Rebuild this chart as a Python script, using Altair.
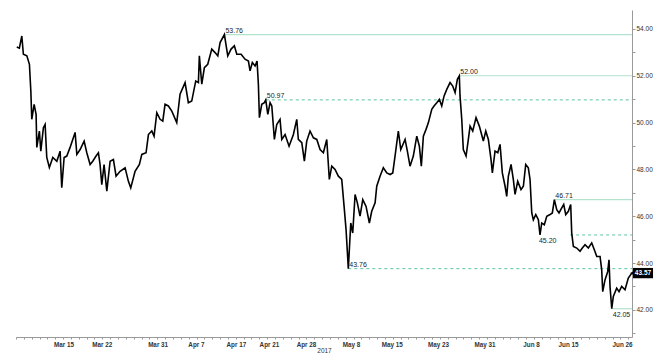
import altair as alt
import pandas as pd

# Trading-day index (0 = Mar 7, 2017) and price values
days = [0.10,0.43,0.74,0.94,1.38,1.71,1.89,2.01,2.31,2.56,2.65,2.98,3.16,3.49,3.71,3.92,4.25,4.69,5.20,5.62,
        5.83,6.13,6.47,6.89,7.53,7.75,8.17,8.68,9.02,9.44,9.78,10.20,10.50,10.71,10.93,11.22,11.57,11.99,12.41,12.75,
        13.26,13.90,14.32,14.62,15.17,15.72,16.03,16.57,16.87,17.30,17.59,17.94,18.36,18.70,18.99,19.41,
        19.85,20.48,20.90,21.54,21.96,22.39,22.90,23.24,23.36,23.67,24.00,24.43,24.94,25.36,25.71,26.00,26.55,26.98,27.40,27.82,
        28.13,28.68,29.18,29.61,29.82,30.11,30.46,30.71,30.88,31.01,31.31,31.64,31.82,32.08,32.37,32.59,32.92,33.22,33.64,33.86,
        34.28,34.79,35.34,35.77,35.97,36.41,36.74,37.04,37.46,37.89,38.32,38.74,
        39.16,39.59,39.92,40.23,40.65,41.07,41.50,41.80,42.05,42.34,42.65,42.90,43.20,43.49,43.83,44.18,44.60,45.02,45.32,45.75,
        45.96,46.38,46.80,47.24,47.66,48.00,48.29,48.71,49.02,49.57,49.86,50.20,50.62,51.06,51.39,51.64,51.90,52.24,52.54,52.97,
        53.26,53.61,53.94,54.24,54.54,54.88,55.30,55.64,55.94,56.23,56.48,56.57,56.79,56.99,57.34,57.63,57.85,58.19,58.61,59.03,
        59.54,59.85,60.18,60.52,60.69,61.03,61.38,61.67,61.96,62.31,62.52,62.73,63.07,63.36,63.58,63.92,64.34,64.64,64.94,65.27,
        65.49,65.71,65.91,66.22,66.55,66.76,66.98,67.31,67.62,68.04,68.33,68.59,68.89,69.18,69.53,69.78,70.04,70.37,70.67,70.80,
        71.01,71.44,71.86,72.15,72.50,72.92,73.35,73.68,73.99,74.41,74.62,74.75,75.04,75.39,75.55,75.68,75.90,76.10,76.53,76.83,
        77.17,77.59,78.01,78.45]
prices = [53.23,53.18,53.70,52.92,52.85,52.49,51.35,50.14,50.78,50.35,48.94,49.64,48.78,49.78,49.92,48.51,48.08,48.51,48.35,48.78,
          47.22,48.51,48.57,48.94,49.58,48.64,48.85,49.21,48.71,48.21,48.35,48.57,48.71,48.21,47.35,48.21,47.07,48.35,48.42,47.71,
          47.92,48.07,47.49,47.21,47.92,48.21,48.64,48.71,49.49,49.64,49.42,50.42,50.14,50.06,50.78,50.71,
          50.49,50.00,51.21,51.71,50.85,50.92,51.78,51.71,52.85,51.64,52.35,52.49,53.14,52.99,52.85,53.42,53.76,52.85,53.14,53.28,
          52.92,52.92,52.71,52.63,52.21,52.57,52.42,52.63,51.64,50.21,50.78,50.85,50.97,50.35,50.85,50.71,49.28,49.92,50.14,49.28,
          49.49,48.99,49.49,50.14,49.28,49.14,48.35,49.21,49.64,49.35,49.28,48.85,
          48.71,49.28,47.57,48.14,48.00,47.71,47.57,46.42,45.43,43.76,45.71,45.28,46.93,46.57,46.00,46.71,46.42,45.71,46.21,46.57,
          47.28,47.71,48.07,47.85,47.78,47.85,48.57,49.64,48.85,49.28,48.78,48.14,48.57,49.42,48.99,48.14,49.42,49.71,50.00,50.57,
          50.71,50.85,50.99,50.71,51.14,51.42,51.71,51.56,51.28,51.85,52.00,51.14,50.14,48.85,48.57,49.28,49.85,49.64,50.21,49.85,
          49.21,49.64,49.28,48.42,47.85,48.78,48.71,49.07,47.85,47.28,46.85,47.71,48.21,47.57,46.93,47.49,47.14,47.28,48.21,48.07,
          47.57,46.14,45.85,46.07,45.85,45.20,45.71,45.64,46.00,46.07,46.14,46.71,46.28,46.14,46.36,46.50,46.07,46.21,46.50,45.28,
          44.71,44.64,44.50,44.64,44.78,44.64,44.86,44.57,44.28,44.28,43.71,42.78,43.28,43.64,44.14,43.00,42.05,42.57,42.93,42.78,
          43.00,42.86,43.36,43.57]

# x-axis date labels and their positions (trading days)
tick_labels = ["Mar 15", "Mar 22", "Mar 31", "Apr 7", "Apr 17", "Apr 21", "Apr 28",
               "May 8", "May 15", "May 23", "May 31", "Jun 8", "Jun 15", "Jun 26"]
tick_days = [6.04, 10.93, 18.04, 22.92, 28.01, 32.22, 36.95,
             42.69, 47.87, 53.77, 59.70, 65.62, 70.33, 77.21]

# Horizontal levels
level_values = [53.76, 52.00, 50.97, 46.71, 45.20, 43.76, 42.05]
level_start = [26.55, 56.48, 31.82, 68.59, 70.60, 42.34, 75.90]
level_label_day = [26.55, 56.48, 31.82, 68.59, 66.50, 42.34, 75.90]
level_dashed = [False, False, True, False, True, True, False]
level_above = [True, True, True, True, False, True, False]

last_price = 43.57
X_MIN, X_MAX = 0, 78.48
Y_MIN, Y_MAX = 40.84, 54.81

assert len(days) == len(prices)

price_df = pd.DataFrame({"day": days, "price": prices})
lev_df = pd.DataFrame({
    "level": level_values, "start": level_start, "end": [X_MAX] * len(level_values),
    "lday": level_label_day, "dashed": level_dashed, "above": level_above,
    "label": [f"{v:.2f}" for v in level_values],
})
tag_df = pd.DataFrame({"x": [78.61], "x2": [81.16], "y": [last_price - 0.22], "y2": [last_price + 0.22],
                       "xc": [79.88], "price": [last_price], "label": [f"{last_price:.2f}"], "xt": [X_MAX]})

label_expr = "".join(f"datum.value == {v} ? '{t}' : " for v, t in zip(tick_days, tick_labels)) + "''"

FONT = "Liberation Sans"
AX = "#999999"

x_axis = alt.Axis(
    values=list(range(0, 79)) + tick_days,
    labelExpr=label_expr,
    tickSize=2, tickColor=AX, domainColor=AX, domainWidth=1,
    tickOpacity={"condition": {"test": "datum.value % 1 != 0", "value": 0}, "value": 1},
    labelFont=FONT, labelFontSize=6.3, labelFontWeight="bold", labelColor="#333333",
    labelPadding=2, labelOverlap=False, labelFlush=False,
    title="2017", titleFont=FONT, titleFontSize=6.5, titleFontWeight="normal",
    titleColor="#333333", titlePadding=0, grid=False,
)
y_axis = alt.Axis(
    orient="right", values=list(range(41, 55)),
    labelExpr="datum.value % 2 == 0 ? format(datum.value, '.2f') : ''",
    tickSize=3, tickColor=AX, domainColor=AX, domainWidth=1,
    labelFont=FONT, labelFontSize=6.5, labelColor="#333333", labelPadding=1,
    labelOverlap=False, labelFlush=False, title=None, grid=False,
)

xs = alt.Scale(domain=[X_MIN, X_MAX], nice=False, zero=False)
ys = alt.Scale(domain=[Y_MIN, Y_MAX], nice=False, zero=False)

line = alt.Chart(price_df).mark_line(color="#000000", strokeWidth=1.6, strokeJoin="miter").encode(
    x=alt.X("day:Q", scale=xs, axis=x_axis),
    y=alt.Y("price:Q", scale=ys, axis=y_axis),
)

solid = alt.Chart(lev_df).transform_filter("!datum.dashed").mark_rule(
    color="#b3e2cd", strokeWidth=1.2).encode(
    x=alt.X("start:Q", scale=xs, axis=x_axis), x2="end:Q",
    y=alt.Y("level:Q", scale=ys, axis=y_axis),
)
dashed = alt.Chart(lev_df).transform_filter("datum.dashed").mark_rule(
    color="#5cc6a2", strokeWidth=1, strokeDash=[3, 3]).encode(
    x=alt.X("start:Q", scale=xs, axis=x_axis), x2="end:Q",
    y=alt.Y("level:Q", scale=ys, axis=y_axis),
)

txt_above = alt.Chart(lev_df).transform_filter("datum.above").mark_text(
    align="left", baseline="alphabetic", dx=1, dy=-1.5, font=FONT, fontSize=7, color="#222222").encode(
    x=alt.X("lday:Q", scale=xs, axis=x_axis),
    y=alt.Y("level:Q", scale=ys, axis=y_axis),
    text="label:N",
)
txt_below = alt.Chart(lev_df).transform_filter("!datum.above").mark_text(
    align="left", baseline="top", dx=1, dy=2, font=FONT, fontSize=7, color="#222222").encode(
    x=alt.X("lday:Q", scale=xs, axis=x_axis),
    y=alt.Y("level:Q", scale=ys, axis=y_axis),
    text="label:N",
)

tag_rect = alt.Chart(tag_df).mark_rect(color="#000000").encode(
    x=alt.X("x:Q", scale=xs, axis=x_axis), x2="x2:Q",
    y=alt.Y("y:Q", scale=ys, axis=y_axis), y2="y2:Q",
)
tag_tri = alt.Chart(tag_df).mark_point(shape="triangle-left", filled=True, color="#000000",
                                       size=18, opacity=1).encode(
    x=alt.X("xt:Q", scale=xs, axis=x_axis),
    y=alt.Y("price:Q", scale=ys, axis=y_axis),
)
tag_txt = alt.Chart(tag_df).mark_text(font=FONT, fontSize=6.5, fontWeight="bold", color="#ffffff",
                                      align="center", baseline="middle").encode(
    x=alt.X("xc:Q", scale=xs, axis=x_axis),
    y=alt.Y("price:Q", scale=ys, axis=y_axis),
    text="label:N",
)

chart = alt.layer(solid, dashed, line, txt_above, txt_below, tag_rect, tag_tri, tag_txt).properties(
    width=616, height=327,
    padding={"left": 16, "top": 10, "right": 22, "bottom": 21},
    autosize=alt.AutoSizeParams(type="none"),
    background="#ffffff",
).configure_view(stroke=None)

chart.save("out.html", embed_options={"renderer": "svg", "actions": False})
